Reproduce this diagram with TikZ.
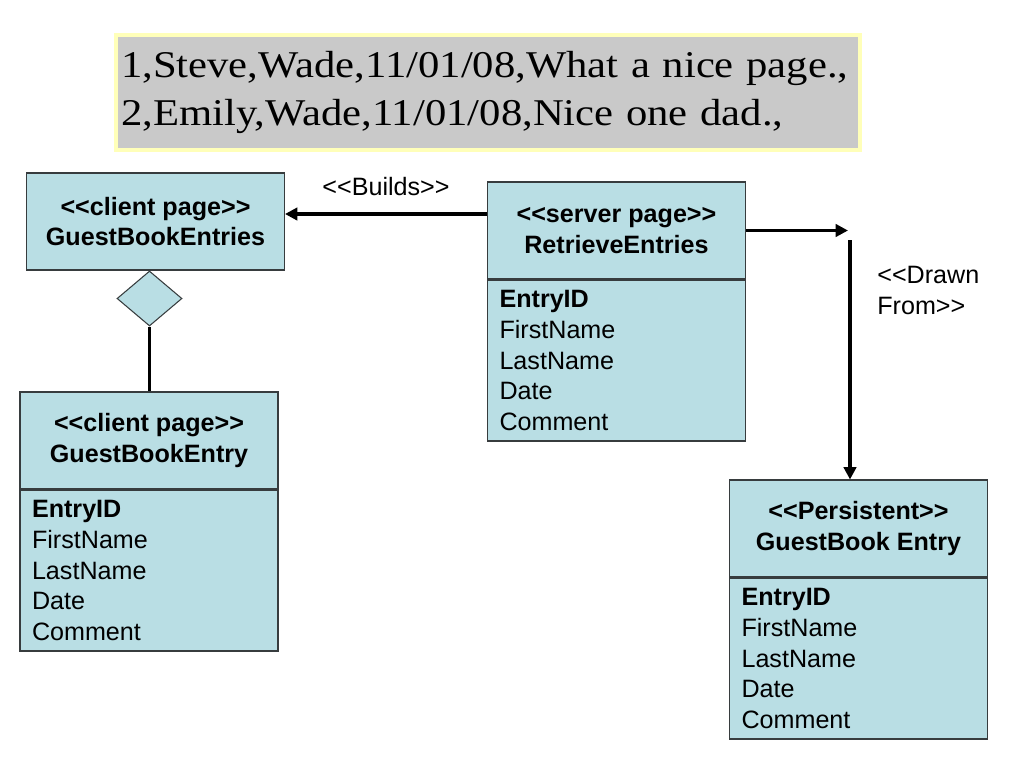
\documentclass[tikz,border=0pt]{standalone}
\usepackage{fontspec}
\setmainfont{Liberation Sans}[Ligatures=TeXOff]
\newfontfamily\datafont{Liberation Serif}[Ligatures=TeXOff, FakeStretch=1.13]
\usepackage{xcolor}
\usetikzlibrary{shapes.geometric, arrows.meta, positioning}

\definecolor{boxblue}{RGB}{185,222,228}
\definecolor{boxline}{RGB}{55,60,62}
\definecolor{datagray}{RGB}{201,201,201}
\definecolor{datarim}{RGB}{255,255,185}

\tikzset{
  titlebox/.style={draw=boxline, fill=boxblue, line width=0.6pt,
                   minimum width=5.16cm, minimum height=1.94cm, inner sep=0pt,
                   align=center, font=\fontsize{14.3}{17.5}\selectfont\bfseries},
  attrbox/.style={draw=boxline, fill=boxblue, line width=0.6pt,
                  minimum width=5.16cm, minimum height=3.22cm,
                  text width=4.68cm, inner xsep=0.24cm, inner ysep=0pt,
                  align=left, font=\fontsize{14.3}{17.5}\selectfont},
  conn/.style={line width=1.8pt, -{Triangle[length=7pt,width=7pt]}},
  assoc/.style={line width=1.8pt},
  lbl/.style={inner sep=0pt, font=\fontsize{14.3}{17.5}\selectfont},
}

\begin{document}
\begin{tikzpicture}[x=0.02cm, y=-0.02cm]
\fill[white] (0,0) rectangle (1024,768);
\useasboundingbox (0,0) rectangle (1024,768);

%% data rows
\node[draw=datarim, fill=datagray, line width=2pt,
      minimum width=14.88cm, minimum height=2.3cm,
      text width=14.68cm, inner xsep=0.1cm, align=left,
      font=\datafont\fontsize{21.5}{27.3}\selectfont] (rows) at (488,92.5)
  {1,Steve,Wade,11/01/08,What a nice page.,\\2,Emily,Wade,11/01/08,Nice one dad.,};

%% classes
\node[titlebox] (ents) at (155.5,221.5) {<<client page>>\\GuestBookEntries};
\node[diamond, draw=boxline, fill=boxblue, line width=0.6pt,
      minimum width=1.3cm, minimum height=1.1cm, inner sep=0pt] (agg) at (149.5,298.5) {};

\node[titlebox] (gbe) at (149,440.5) {<<client page>>\\GuestBookEntry};
\node[attrbox, below=0pt of gbe] (gbeattr)
  {\textbf{EntryID}\\FirstName\\LastName\\Date\\Comment};

\node[titlebox] (ret) at (616.5,230.5) {<<server page>>\\RetrieveEntries};
\node[attrbox, below=0pt of ret] (retattr)
  {\textbf{EntryID}\\FirstName\\LastName\\Date\\Comment};

\node[titlebox] (pers) at (858.5,528.5) {<<Persistent>>\\GuestBook Entry};
\node[attrbox, below=0pt of pers] (persattr)
  {\textbf{EntryID}\\FirstName\\LastName\\Date\\Comment};

%% connectors
\coordinate (bl) at (487,214);
\draw[conn] (ret.west |- bl) -- (ents.east |- bl)
  node[lbl, midway, above=0.34cm] (blab) {<<Builds>>};

\draw[assoc] (agg.south) -- (gbe.north -| agg.south);

\coordinate (dfend) at (848,230.5);
\draw[conn] (ret.east) -- (dfend);
\coordinate (dftop) at (850,240);
\draw[conn] (dftop) -- (pers.north -| dftop);
\node[lbl, align=left, anchor=north west] (dlab) at (877,266) {<<Drawn\\From>>};
\end{tikzpicture}
\end{document}
